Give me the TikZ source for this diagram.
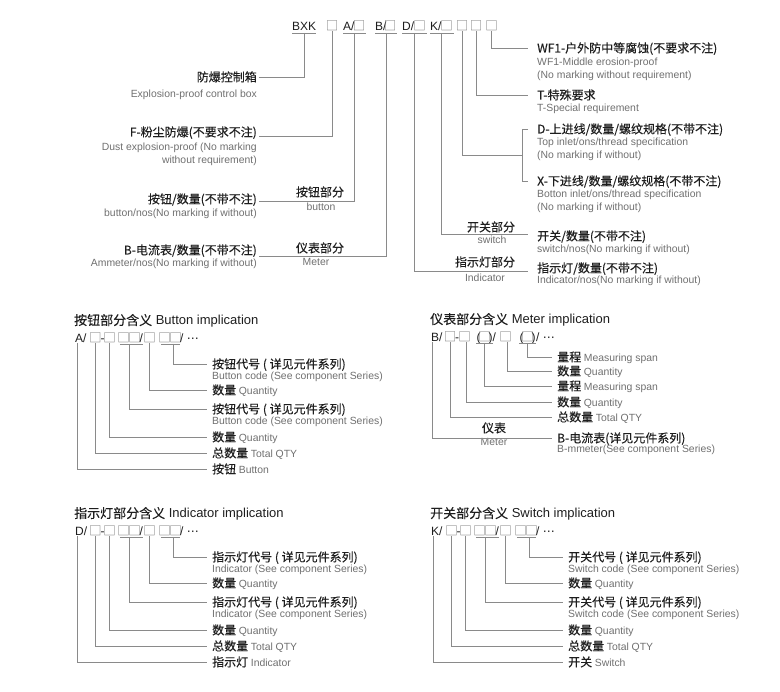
\documentclass[tikz,border=0pt]{standalone}
\usepackage{fontspec}
\setmainfont{Liberation Sans}
\newfontfamily\zhfont{Noto Sans CJK SC}[FakeBold=0.2]
\newfontfamily\sqfont{Noto Sans CJK SC}
\newfontfamily\djv{DejaVu Sans}
\definecolor{dk}{HTML}{1E1E1E}
\definecolor{gt}{HTML}{707070}
\definecolor{lg}{HTML}{8A8A8A}
\definecolor{sqg}{HTML}{7A7A7A}
\newcommand{\zhen}[2]{#1 {\rmfamily\fontsize{10.4}{12}\selectfont\color{gt}#2}}
\newcommand{\onesq}{\makebox[8pt]{□}}
\newcommand{\dsq}{\makebox[18pt]{□\hspace{-1.5pt}□}}
\newcommand{\sqs}[1]{{\sqfont\fontsize{12.5}{14}\selectfont\color{sqg}\makebox[8pt]{#1}}}
\newcommand{\mdots}{{\djv ⋯}}
\tikzset{
  ln/.style={draw=lg, line width=0.7pt},
  zh/.style={font=\fontsize{12}{14}\selectfont\zhfont, text=dk, inner sep=0pt, text height=10.5pt, text depth=1.5pt},
  en/.style={font=\fontsize{10.4}{12}\selectfont, text=gt, inner sep=0pt, text height=7.5pt, text depth=2.2pt},
  codet/.style={font=\fontsize{12}{14}\selectfont, text=dk, inner sep=0pt, anchor=base west},
  sq/.style={font=\fontsize{12.5}{14}\selectfont\sqfont, text=sqg, inner sep=0pt, anchor=base},
  head/.style={font=\fontsize{13}{15}\selectfont, text=dk, inner sep=0pt, anchor=west, text height=11.4pt, text depth=1.4pt},
}
% #1 prefix, #2 ox, #3 yc, #4 letter, #5 heading zh, #6 heading en, #7 code zh, #8 code en, #9 last row
\newcommand{\implblock}[9]{%
  \begin{scope}[shift={(#2,#3)}]
    \node[head] (#1h) at (-3,-18) {{\zhfont #5} #6};
    \node[codet] (#1l) at (-2,4.5) {#4/};
    \node[sq] (#1s1) at (18.5,4.5) {\onesq};
    \node[codet] (#1m) at (23.3,4.5) {-};
    \node[sq] (#1s2) at (32.5,4.5) {\onesq};
    \node[sq] (#1s3) at (52,4.5) {\dsq};
    \node[codet] (#1n) at (62.5,4.5) {/};
    \node[sq] (#1s4) at (72.5,4.5) {\onesq};
    \node[sq] (#1s5) at (93,4.5) {\dsq};
    \node[codet] (#1e) at (103,4.5) {/ \mdots};
    \draw[ln] ([yshift=-1.5pt]#1s3.base west) -- ([yshift=-1.5pt]#1n.base east);
    \draw[ln] ([yshift=-1.5pt]#1s5.base west) -- ([yshift=-1.5pt,xshift=1pt]#1s5.base east);
    \node[zh,anchor=west] (#1r1) at (135,26) {#7};
    \node[en,anchor=west] (#1r1e) at (135,39) {#8};
    \node[zh,anchor=west] (#1r2) at (135,52) {\zhen{数量}{Quantity}};
    \node[zh,anchor=west] (#1r3) at (135,71) {#7};
    \node[en,anchor=west] (#1r3e) at (135,84) {#8};
    \node[zh,anchor=west] (#1r4) at (135,99) {\zhen{数量}{Quantity}};
    \node[zh,anchor=west] (#1r5) at (135,115) {\zhen{总数量}{Total QTY}};
    \node[zh,anchor=west] (#1r6) at (135,131) {#9};
    \draw[ln] ([xshift=3pt,yshift=-1.5pt]#1s5.base) |- ([xshift=-5pt]#1r1.west);
    \draw[ln] (#1s4.south) |- ([xshift=-5pt]#1r2.west);
    \draw[ln] ([yshift=-1.5pt]#1s3.base) |- ([xshift=-5pt]#1r3.west);
    \draw[ln] (#1s2.south) |- ([xshift=-5pt]#1r4.west);
    \draw[ln] (#1s1.south) |- ([xshift=-5pt]#1r5.west);
    \draw[ln] ([xshift=2pt]#1l.south west) |- ([xshift=-5pt]#1r6.west);
  \end{scope}}
\begin{document}
\begin{tikzpicture}[x=1pt,y=-1pt]
\fill[white] (0,0) rectangle (780,692);
\useasboundingbox (0,0) rectangle (780,692);

% ---------- top code line ----------
\node[codet] (bxk) at (292,31) {BXK};
\node[sq] (s0) at (332,31) {\onesq};
\node[codet] (a) at (343,31) {A/};
\node[sq] (sa) at (359,31) {\onesq};
\node[codet] (b) at (375,31) {B/};
\node[sq] (sb) at (390,31) {\onesq};
\node[codet] (d) at (402,31) {D/};
\node[sq] (sd) at (419.5,31) {\onesq};
\node[codet] (k) at (430,31) {K/};
\node[sq] (sk) at (446.5,31) {\onesq};
\node[sq] (s1) at (462,31) {\onesq};
\node[sq] (s2) at (476,31) {\onesq};
\node[sq] (s3) at (491.5,31) {\onesq};
\draw[ln] ([yshift=-2pt]bxk.base west) -- ([yshift=-2pt]bxk.base east);
\draw[ln] ([yshift=-2pt]a.base west) -- ([yshift=-2pt,xshift=3pt]sa.base east);
\draw[ln] ([yshift=-2pt]b.base west) -- ([yshift=-2pt,xshift=3pt]sb.base east);
\draw[ln] ([yshift=-2pt]d.base west) -- ([yshift=-2pt,xshift=3pt]sd.base east);
\draw[ln] ([yshift=-2pt]k.base west) -- ([yshift=-2pt,xshift=3pt]sk.base east);

% ---------- left labels ----------
\node[zh,anchor=east] (Lbox) at (257,77) {防爆控制箱};
\node[en,anchor=east] (Lboxe) at (257,95) {Explosion-proof control box};
\node[zh,anchor=east] (LF) at (257,132) {F-粉尘防爆(不要求不注)};
\node[en,anchor=east] (LFe1) at (257,148) {Dust explosion-proof (No marking};
\node[en,anchor=east] (LFe2) at (257,161) {without requirement)};
\node[zh,anchor=east] (Lbtn) at (257,199) {按钮/数量(不带不注)};
\node[en,anchor=east] (Lbtne) at (257,214) {button/nos(No marking if without)};
\node[zh,anchor=east] (LB) at (257,250) {B-电流表/数量(不带不注)};
\node[en,anchor=east] (LBe) at (257,264) {Ammeter/nos(No marking if without)};
\node[zh] (Pbtn) at (320,192) {按钮部分};
\node[en] (Pbtne) at (321,208) {button};
\node[zh] (Pmet) at (320,248) {仪表部分};
\node[en] (Pmete) at (316,263) {Meter};

% ---------- right labels ----------
\node[zh,anchor=west] (RWF) at (537,48) {WF1-户外防中等腐蚀(不要求不注)};
\node[en,anchor=west] (RWFe1) at (537,63) {WF1-Middle erosion-proof};
\node[en,anchor=west] (RWFe2) at (537,76) {(No marking without requirement)};
\node[zh,anchor=west] (RT) at (537,95) {T-特殊要求};
\node[en,anchor=west] (RTe) at (537,109) {T-Special requirement};
\node[zh,anchor=west] (RD) at (537,129) {D-上进线/数量/螺纹规格(不带不注)};
\node[en,anchor=west] (RDe1) at (537,143) {Top inlet/ons/thread specification};
\node[en,anchor=west] (RDe2) at (537,156) {(No marking if without)};
\node[zh,anchor=west] (RX) at (537,181) {X-下进线/数量/螺纹规格(不带不注)};
\node[en,anchor=west] (RXe1) at (537,195) {Botton inlet/ons/thread specification};
\node[en,anchor=west] (RXe2) at (537,208) {(No marking if without)};
\node[zh,anchor=west] (RK) at (537,236) {开关/数量(不带不注)};
\node[en,anchor=west] (RKe) at (537,250) {switch/nos(No marking if without)};
\node[zh,anchor=west] (RI) at (537,268) {指示灯/数量(不带不注)};
\node[en,anchor=west] (RIe) at (537,281) {Indicator/nos(No marking if without)};
\node[zh] (PK) at (491,227) {开关部分};
\node[en] (PKe) at (492,241) {switch};
\node[zh] (PI) at (485,262) {指示灯部分};
\node[en] (PIe) at (485,279) {Indicator};
\coordinate (brk) at (522,155);

% ---------- top connectors ----------
\draw[ln] ([yshift=-2pt]bxk.base) |- ([xshift=2pt]Lbox.east);
\draw[ln] (s0.south) |- ([xshift=2pt,yshift=-4pt]LF.east);
\draw[ln] ([yshift=-2pt]a.base east) |- ([xshift=2pt,yshift=-2pt]Lbtn.east);
\draw[ln] ([yshift=-2pt]b.base east) |- ([xshift=2pt,yshift=-6pt]LB.east);
\draw[ln] ([yshift=-2pt]d.base east) |- ([xshift=-9pt,yshift=-3pt]RI.west);
\draw[ln] ([yshift=-2pt]k.base east) |- ([xshift=-9pt,yshift=2pt]RK.west);
\draw[ln] (s1.south) |- (brk);
\draw[ln] ([xshift=-9pt]RD.west) -- ([xshift=-15pt]RD.west) |- ([xshift=-9pt]RX.west);
\draw[ln] (s2.south) |- ([xshift=-9pt]RT.west);
\draw[ln] (s3.south) |- ([xshift=-9pt]RWF.west);

% ---------- lower sections ----------
\implblock{bt}{77}{338}{A}{按钮部分含义}{Button implication}{按钮代号 ( 详见元件系列)}{Button code (See component Series)}{\zhen{按钮}{Button}}
\implblock{id}{77}{531}{D}{指示灯部分含义}{Indicator implication}{指示灯代号 ( 详见元件系列)}{Indicator (See component Series)}{\zhen{指示灯}{Indicator}}
\implblock{sw}{433}{531}{K}{开关部分含义}{Switch implication}{开关代号 ( 详见元件系列)}{Switch code (See component Series)}{\zhen{开关}{Switch}}

% ---------- meter section ----------
\begin{scope}[shift={(432,337)}]
  \node[head] (mh) at (-2,-18) {{\zhfont 仪表部分含义} Meter implication};
  \node[codet] (ml) at (-1,4.5) {B/};
  \node[sq] (ms1) at (18,4.5) {\onesq};
  \node[codet] (mm) at (22.8,4.5) {-};
  \node[sq] (ms2) at (32.5,4.5) {\onesq};
  \node[codet,anchor=base] (ms3) at (52.5,4.5) {(\sqs{□})};
  \node[codet] (mn) at (60.5,4.5) {/};
  \node[sq] (ms4) at (73.5,4.5) {\onesq};
  \node[codet,anchor=base] (ms5) at (95.5,4.5) {(\sqs{□})};
  \node[codet] (me) at (104,4.5) {/ \mdots};
  \draw[ln] ([yshift=-1.5pt]ms3.base west) -- ([yshift=-1.5pt]ms3.base east);
  \draw[ln] ([yshift=-1.5pt]ms5.base west) -- ([yshift=-1.5pt]ms5.base east);
  \node[zh,anchor=west] (mr1) at (125,20) {\zhen{量程}{Measuring span}};
  \node[zh,anchor=west] (mr2) at (125,34) {\zhen{数量}{Quantity}};
  \node[zh,anchor=west] (mr3) at (125,49) {\zhen{量程}{Measuring span}};
  \node[zh,anchor=west] (mr4) at (125,65) {\zhen{数量}{Quantity}};
  \node[zh,anchor=west] (mr5) at (125,80) {\zhen{总数量}{Total QTY}};
  \node[zh,anchor=west] (mr6) at (125,101) {B-电流表(详见元件系列)};
  \node[en,anchor=west] (mr6e) at (125,113) {B-mmeter(See component Series)};
  \node[zh] (mp) at (62,91) {仪表};
  \node[en] (mpe) at (62,106) {Meter};
  \draw[ln] ([yshift=-1.5pt]ms5.base) |- ([xshift=-5pt]mr1.west);
  \draw[ln] ([xshift=1.5pt]ms4.south) |- ([xshift=-5pt]mr2.west);
  \draw[ln] ([yshift=-1.5pt]ms3.base) |- ([xshift=-5pt]mr3.west);
  \draw[ln] ([xshift=1.5pt]ms2.south) |- ([xshift=-5pt]mr4.west);
  \draw[ln] (ms1.south) |- ([xshift=-5pt]mr5.west);
  \draw[ln] ([xshift=1.5pt]ml.south west) |- ([xshift=-5pt]mr6.west);
\end{scope}
\end{tikzpicture}
\end{document}
